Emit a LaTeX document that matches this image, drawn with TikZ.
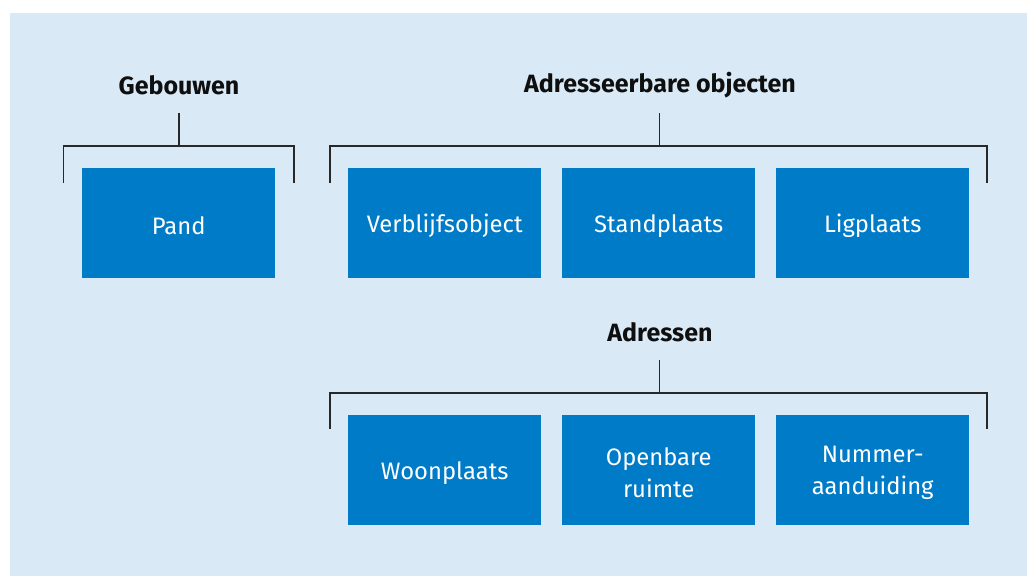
\documentclass[tikz,border=0pt]{standalone}
\usepackage{fontspec}
\setmainfont{Fira Sans}
\definecolor{bgblue}{RGB}{217,234,246}
\definecolor{boxblue}{RGB}{0,123,199}
\definecolor{linegray}{RGB}{40,40,40}
\definecolor{titleblack}{RGB}{15,15,15}
\begin{document}
\begin{tikzpicture}[x=1pt,y=-1pt,
  boxnode/.style={fill=boxblue, minimum width=193pt, minimum height=110pt, inner sep=0pt, anchor=north west},
  boxtext/.style={text=white, inner sep=0pt, align=center, font=\fontsize{23.8}{32}\selectfont, yshift=-3pt},
  titlenode/.style={text=titleblack, font=\fontsize{25}{28}\selectfont\bfseries, inner sep=0pt},
  bracket/.style={draw=linegray, line width=1.6pt}]
\useasboundingbox (0,0) rectangle (1027,576);
\fill[bgblue] (10,13) rectangle (1027,576);
% titles
\node[titlenode] (geb) at (179,85) {Gebouwen};
\node[titlenode] (ado) at (660,85) {Adresseerbare objecten};
\node[titlenode] (adr) at (660,332) {Adressen};
% boxes
\node[boxnode] (pand) at (82,168) {};
\node[boxnode] (vbo) at (348,168) {};
\node[boxnode] (sta) at (562,168) {};
\node[boxnode] (lig) at (776,168) {};
\node[boxnode] (wpl) at (348,415) {};
\node[boxnode] (opr) at (562,415) {};
\node[boxnode] (num) at (776,415) {};
\node[boxtext] (pandt) at (pand.center) {Pand};
\node[boxtext] (vbot) at (vbo.center) {Verblijfsobject};
\node[boxtext] (stat) at (sta.center) {Standplaats};
\node[boxtext] (ligt) at (lig.center) {Ligplaats};
\node[boxtext] (wplt) at (wpl.center) {Woonplaats};
\node[boxtext] (oprt) at (opr.center) {Openbare\\ruimte};
\node[boxtext] (numt) at (num.center) {Nummer-\\aanduiding};
% bracket coordinates
\coordinate (g1) at (179,113); \coordinate (g2) at (179,146);
\coordinate (gl) at (63.5,182.5); \coordinate (gr) at (294,182.5);
\coordinate (a1) at (659.5,113); \coordinate (a2) at (659.5,146);
\coordinate (al) at (330,182.5); \coordinate (ar) at (987,182.5);
\coordinate (b1) at (659.5,360); \coordinate (b2) at (659.5,393);
\coordinate (bl) at (330,429); \coordinate (br) at (987,429);
% brackets
\draw[bracket] (g1) -- (g2);
\draw[bracket] (gl) -- (gl|-g2) -- (gr|-g2) -- (gr);
\draw[bracket] (a1) -- (a2);
\draw[bracket] (al) -- (al|-a2) -- (ar|-a2) -- (ar);
\draw[bracket] (b1) -- (b2);
\draw[bracket] (bl) -- (bl|-b2) -- (br|-b2) -- (br);
\end{tikzpicture}
\end{document}
